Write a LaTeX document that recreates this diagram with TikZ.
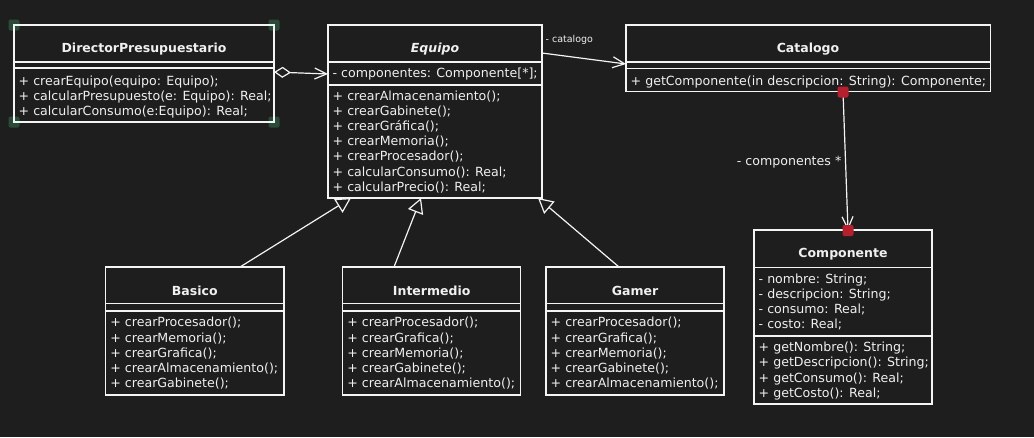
\documentclass[tikz,border=0pt]{standalone}
\usepackage{fontspec}
\setmainfont{DejaVu Sans}
\usetikzlibrary{arrows.meta,calc}
\definecolor{bgc}{HTML}{1E1E1E}
\definecolor{fg}{HTML}{F4F4F4}
\definecolor{txtc}{HTML}{F0F0F0}
\definecolor{selg}{HTML}{2A4B3A}
\definecolor{redm}{HTML}{B5202E}
\tikzset{
  cls/.style={draw=fg, line width=1.2pt, anchor=north west, inner sep=0pt, outer sep=0pt},
  sepl/.style={draw=fg, line width=1.2pt},
  ttl/.style={font=\bfseries\fontsize{12.5}{14}\selectfont, text=txtc, inner sep=0pt},
  ittl/.style={font=\bfseries\itshape\fontsize{12.5}{14}\selectfont, text=txtc, inner sep=0pt},
  mem/.style={font=\fontsize{12.6}{14}\selectfont, text=txtc, anchor=west, inner sep=0pt, text height=9pt, text depth=0pt},
  smalllbl/.style={font=\fontsize{9.5}{11}\selectfont, text=txtc, inner sep=0pt},
  conn/.style={draw=fg, line width=1.2pt},
  openarr/.style={conn, -{Straight Barb[length=12pt,width=11pt,line width=1.2pt]}},
  genarr/.style={conn, -{Triangle[length=15pt,width=16pt,fill=bgc,line width=1.2pt]}},
  aggarr/.style={conn, {Diamond[length=17pt,width=11pt,fill=bgc,line width=1.2pt]}-{Straight Barb[length=12pt,width=11pt,line width=1.2pt]}},
  handle/.style={fill=selg, rounded corners=2pt, minimum size=11pt, inner sep=0pt},
  redmark/.style={fill=redm, rounded corners=2pt, minimum size=11pt, inner sep=0pt},
}
\begin{document}
\begin{tikzpicture}[x=1pt,y=-1pt]
\fill[bgc] (0,0) rectangle (1034,437);
\useasboundingbox (0,0) rectangle (1034,437);

% selection handles of DirectorPresupuestario
\node[handle] (h1) at (14,25) {};
\node[handle] (h2) at (274,25) {};
\node[handle] (h3) at (14,122) {};
\node[handle] (h4) at (274,122) {};

% DirectorPresupuestario
\node[cls, minimum width=260pt, minimum height=97pt] (dir) at (14,25) {};
\draw[sepl] (dir.west |- 0,62) -- (dir.east |- 0,62);
\draw[sepl] (dir.west |- 0,68) -- (dir.east |- 0,68);
\node[ttl] (dirT) at (144,49) {DirectorPresupuestario};
\foreach \t [count=\i] in {{+ crearEquipo(equipo: Equipo);},{+ calcularPresupuesto(e: Equipo): Real;},{+ calcularConsumo(e:Equipo): Real;}}
  \node[mem] (dirM\i) at (18.5,{80.5+15*(\i-1)}) {\t};

% Equipo
\node[cls, minimum width=214pt, minimum height=173pt] (equipo) at (328,25) {};
\draw[sepl] (equipo.west |- 0,62) -- (equipo.east |- 0,62);
\draw[sepl] (equipo.west |- 0,85) -- (equipo.east |- 0,85);
\node[ittl] (equipoT) at (435,49) {Equipo};
\node[mem] (equipoA1) at (332.5,73.3) {- componentes: Componente[*];};
\foreach \t [count=\i] in {{+ crearAlmacenamiento();},{+ crearGabinete();},{+ crearGráfica();},{+ crearMemoria();},{+ crearProcesador();},{+ calcularConsumo(): Real;},{+ calcularPrecio(): Real;}}
  \node[mem] (equipoM\i) at (332.5,{96+15.1*(\i-1)}) {\t};

% Catalogo
\node[cls, minimum width=364.5pt, minimum height=66.5pt] (cat) at (626,25) {};
\draw[sepl] (cat.west |- 0,62) -- (cat.east |- 0,62);
\draw[sepl] (cat.west |- 0,68.5) -- (cat.east |- 0,68.5);
\node[ttl] (catT) at (808,49) {Catalogo};
\node[mem] (catM1) at (630.5,80.7) {+ getComponente(in descripcion: String): Componente;};

% Componente
\node[cls, minimum width=178pt, minimum height=174pt] (comp) at (754,230) {};
\draw[sepl] (comp.west |- 0,267.3) -- (comp.east |- 0,267.3);
\draw[sepl] (comp.west |- 0,336) -- (comp.east |- 0,336);
\node[ttl] (compT) at (843,254.3) {Componente};
\foreach \t [count=\i] in {{- nombre: String;},{- descripcion: String;},{- consumo: Real;},{- costo: Real;}}
  \node[mem] (compA\i) at (758.5,{278.5+15.3*(\i-1)}) {\t};
\foreach \t [count=\i] in {{+ getNombre(): String;},{+ getDescripcion(): String;},{+ getConsumo(): Real;},{+ getCosto(): Real;}}
  \node[mem] (compM\i) at (758.5,{347.3+15.1*(\i-1)}) {\t};

% Basico
\node[cls, minimum width=178.3pt, minimum height=128pt] (basico) at (105.7,267) {};
\draw[sepl] (basico.west |- 0,303.3) -- (basico.east |- 0,303.3);
\draw[sepl] (basico.west |- 0,311) -- (basico.east |- 0,311);
\node[ttl] (basicoT) at (194.8,290.7) {Basico};
\foreach \t [count=\i] in {{+ crearProcesador();},{+ crearMemoria();},{+ crearGrafica();},{+ crearAlmacenamiento();},{+ crearGabinete();}}
  \node[mem] (basicoM\i) at (110.2,{322.3+15.25*(\i-1)}) {\t};

% Intermedio
\node[cls, minimum width=178pt, minimum height=128pt] (inter) at (342.7,267) {};
\draw[sepl] (inter.west |- 0,303.3) -- (inter.east |- 0,303.3);
\draw[sepl] (inter.west |- 0,311) -- (inter.east |- 0,311);
\node[ttl] (interT) at (431.7,290.7) {Intermedio};
\foreach \t [count=\i] in {{+ crearProcesador();},{+ crearGrafica();},{+ crearMemoria();},{+ crearGabinete();},{+ crearAlmacenamiento();}}
  \node[mem] (interM\i) at (347.2,{322.3+15.25*(\i-1)}) {\t};

% Gamer
\node[cls, minimum width=178pt, minimum height=128pt] (gamer) at (546,267) {};
\draw[sepl] (gamer.west |- 0,303.3) -- (gamer.east |- 0,303.3);
\draw[sepl] (gamer.west |- 0,311) -- (gamer.east |- 0,311);
\node[ttl] (gamerT) at (635,290.7) {Gamer};
\foreach \t [count=\i] in {{+ crearProcesador();},{+ crearGrafica();},{+ crearMemoria();},{+ crearGabinete();},{+ crearAlmacenamiento();}}
  \node[mem] (gamerM\i) at (550.5,{322.3+15.25*(\i-1)}) {\t};

% connectors
\draw[aggarr] ($(dir.north east)+(0,47)$) -- ($(equipo.north west)+(0,49)$);
\draw[openarr] ($(equipo.north east)+(0,28)$) -- ($(cat.north west)+(0,39)$);
\node[smalllbl, anchor=west] (catLbl) at (545.5,40) {- catalogo};
\draw[openarr] ($(cat.south west)+(217,0)$) -- ($(comp.north west)+(94,0)$);
\node[mem, anchor=east] (compLbl) at (841.5,161) {- componentes *};
\node[redmark] (r1) at ($(cat.south west)+(217,0.5)$) {};
\node[redmark] (r2) at ($(comp.north west)+(94,0.5)$) {};

\draw[genarr] ($(basico.north west)+(134.3,0)$) -- ($(equipo.south west)+(23,0)$);
\draw[genarr] ($(inter.north west)+(51.3,0)$) -- ($(equipo.south west)+(93,0)$);
\draw[genarr] ($(gamer.north west)+(73,0)$) -- ($(equipo.south west)+(210,0)$);
\end{tikzpicture}
\end{document}
